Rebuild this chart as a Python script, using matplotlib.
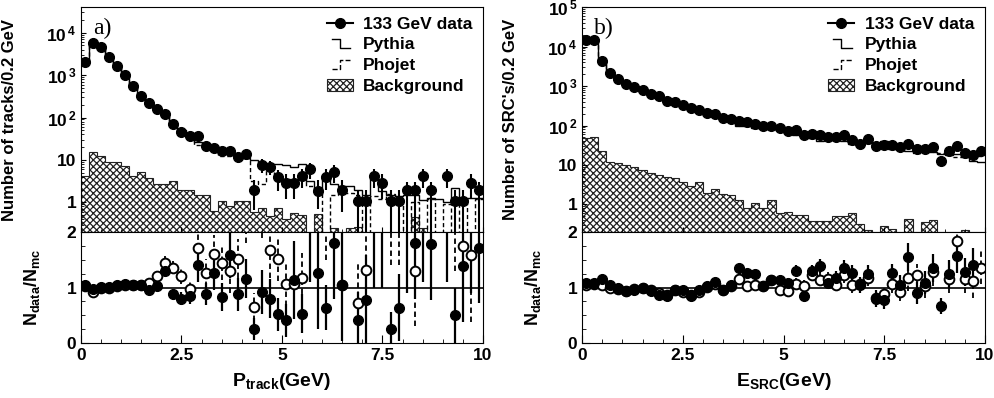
import numpy as np
import matplotlib

matplotlib.use("Agg")
import matplotlib.pyplot as plt
from matplotlib.legend_handler import HandlerBase
from matplotlib.lines import Line2D
from matplotlib.patches import Patch
from matplotlib.ticker import FuncFormatter, MultipleLocator, LogLocator, NullFormatter

plt.rcParams["font.family"] = ["Liberation Sans", "DejaVu Sans"]
plt.rcParams["font.weight"] = "bold"
plt.rcParams["mathtext.fontset"] = "custom"
plt.rcParams["mathtext.rm"] = "Liberation Sans:bold"
plt.rcParams["mathtext.it"] = "Liberation Sans:bold"
plt.rcParams["mathtext.bf"] = "Liberation Sans:bold"
plt.rcParams["hatch.linewidth"] = 0.9

nan = np.nan
bin_edges = np.linspace(0, 10, 51)

# ---- panel a) charged tracks ----
trk_data = [2000, 5800, 4500, 2700, 1600, 1000, 550, 330, 215, 155,
            118, 72, 45, 36, 37, 21, 19.5, 16, 16.5, 12,
            13.5, 2.0, 7.8, 7.0, 3.9, 2.9, 2.9, 4.2, 6.0, 1.9,
            4.0, 5.2, 2.0, nan, 1.07, 1.07, 4.2, 2.9, 1.07, 1.07,
            2.0, 2.0, 4.2, 2.0, nan, 4.2, 1.07, 1.07, 2.9, 2.0]
trk_err_up = [45, 75, 65, 50, 40, 30, 23, 18, 14, 12,
              11, 8, 7, 6, 6, 4.5, 4.4, 4, 4, 3.5,
              3.7, 1.4, 2.8, 2.6, 2.0, 1.7, 1.7, 2.0, 2.4, 1.4,
              2.0, 2.3, 1.4, nan, 0.9, 0.9, 2.0, 1.7, 0.9, 0.9,
              1.0, 1.0, 2.0, 1.0, nan, 2.0, 0.9, 0.9, 1.7, 1.0]
trk_err_dn = [45, 75, 65, 50, 40, 30, 23, 18, 14, 12,
              11, 8, 7, 6, 6, 4.5, 4.4, 4, 4, 3.5,
              3.7, 1.35, 2.8, 2.6, 2.0, 1.7, 1.7, 2.0, 2.4, 1.2,
              2.0, 2.3, 1.4, nan, 1.05, 1.05, 2.0, 1.7, 1.05, 1.05,
              1.95, 1.95, 2.0, 1.95, nan, 2.0, 1.05, 1.05, 1.7, 1.95]
trk_pythia = [2000, 5800, 4400, 2800, 1650, 1000, 570, 340, 215, 150,
              108, 75, 50, 37, 27, 24, 19, 16, 14, 12,
              11, 10, 8.5, 8, 8, 7.5, 7, 8, 3.2, 2.0,
              4.5, 2.7, 2.4, 2.4, 2.0, 1.5, 3.7, 1.9, 1.5, 1.4,
              1.5, 1.5, 1.15, 1.3, 1.2, 1.0, 2.2, 1.1, 1.25, 1.25]
trk_phojet = [2000, 5700, 4400, 2700, 1600, 980, 560, 330, 210, 145,
              110, 70, 45, 33, 22, 21, 17, 12.5, 12.5, 12,
              11, 3.2, 2.7, 7.0, 4.0, 3.5, 3.0, 4.5, 2.5, 1.8,
              0, 1.5, 2.0, 1.7, 1.5, 0, 1.4, 1.2, 1.6, 1.3,
              0, 1.0, 0, 1.2, 0, 0.9, 0, 1.1, 0, 1.2]
trk_bg = [4.2, 15, 12.5, 9, 9, 7.2, 4.2, 5.1, 3.8, 2.7,
          2.7, 3.2, 2.0, 2.0, 1.5, 1.5, 0.63, 1.1, 0.82, 1.07,
          1.07, 0.59, 0.75, 0.48, 0.75, 0.4, 0.55, 0.5, 0, 0.52,
          0, 0.25, 0, 0.25, 0.26, 0, 0, 0, 0, 0,
          0, 0.45, 0.25, 0, 0, 0, 0, 0, 0, 0]
trk_r_py = [1.05, 0.97, 1.01, 1.01, 1.04, 1.07, 1.05, 1.05, 0.96, 1.03,
            1.3, 0.88, 0.8, 0.84, 1.4, 0.88, 1.26, 0.83, 1.58, 0.88,
            1.16, 0.26, 0.92, 0.8, 0.52, 0.41, 1.14, 0.53, 2.3, 1.26,
            0.64, 1.8, 1.04, nan, 0.42, 0.78, 2.4, 2.2, 0.26, 0.64,
            2.3, 1.8, 2.6, 1.78, nan, 2.5, 0.5, 1.38, 2.3, 1.72]
trk_r_py_err = [0.03, 0.03, 0.03, 0.03, 0.03, 0.03, 0.03, 0.04, 0.05, 0.06,
                0.1, 0.1, 0.12, 0.14, 0.3, 0.2, 0.3, 0.25, 0.4, 0.3,
                0.35, 0.2, 0.4, 0.35, 0.3, 0.3, 0.7, 0.35, 1.2, 1.0,
                0.4, 1.0, 1.0, nan, 0.5, 0.8, 1.4, 1.2, 0.3, 0.6,
                1.4, 1.0, 1.5, 1.0, nan, 1.4, 0.5, 1.0, 1.4, 1.0]
trk_r_ph = [1.03, 0.92, 1.0, 1.0, 1.03, 1.05, 1.04, 1.04, 1.08, 1.2,
            1.44, 1.36, 1.2, 0.98, 1.72, 1.26, 1.6, 1.44, 1.3, 1.52,
            2.3, 0.65, 2.9, 1.68, 1.52, 1.06, 1.06, 1.18, 2.6, 2.4,
            2.5, 2.3, 1.04, nan, 0.72, 1.32, 2.6, 2.5, 2.4, 2.6,
            2.6, 1.3, 2.7, 2.5, nan, 2.6, 2.5, 1.74, 1.58, 2.6]
trk_r_ph_err = [0.03, 0.03, 0.03, 0.03, 0.03, 0.03, 0.03, 0.04, 0.05, 0.07,
                0.12, 0.12, 0.13, 0.15, 0.35, 0.25, 0.35, 0.3, 0.4, 0.35,
                0.5, 0.25, 1.0, 0.5, 0.4, 0.4, 0.6, 0.45, 1.0, 1.0,
                1.0, 1.0, 1.0, nan, 0.7, 0.8, 1.2, 1.2, 1.0, 1.2,
                1.2, 1.0, 1.2, 1.2, nan, 1.3, 1.2, 1.1, 1.2, 1.2]

# ---- panel b) SRC energies ----
src_data = [15000, 15000, 4400, 2150, 1470, 1100, 940, 780, 620, 560,
            420, 405, 335, 285, 247, 213, 196, 155, 147, 128,
            126, 110, 95, 95, 86, 71, 75, 56, 62, 56,
            51, 51, 56, 44, 35, 46, 30, 32, 32, 28,
            35, 25, 25, 29, 13, 23, 30, 20, 18, 23]
src_err = [120, 120, 66, 46, 38, 33, 31, 28, 25, 24,
           20, 20, 18, 17, 16, 15, 14, 12, 12, 11,
           11, 10.5, 10, 10, 9, 8.5, 8.5, 7.5, 8, 7.5,
           7, 7, 7.5, 6.6, 6, 6.8, 5.5, 5.7, 5.7, 5.3,
           6, 5, 5, 5.4, 3.6, 4.8, 5.5, 4.5, 4.2, 4.8]
src_pythia = [13800, 13800, 3800, 2050, 1480, 1180, 980, 790, 660, 640,
              490, 420, 350, 335, 255, 210, 180, 160, 140, 95,
              100, 88, 93, 83, 75, 65, 58, 66, 48, 40,
              47, 43, 41, 35, 33, 37, 37, 41, 25, 27,
              23, 28, 23, 21, 19, 18, 19, 16, 13, 12]
src_phojet = [14300, 14000, 4200, 2170, 1490, 1130, 960, 770, 650, 620,
              480, 420, 365, 325, 270, 215, 190, 165, 160, 110,
              122, 105, 93, 84, 90, 75, 70, 54, 51, 49,
              44, 48, 46, 42, 33, 39, 37, 36, 30, 30,
              30, 20, 25, 23, 20, 20, 16, 17, 16, 17]
src_bg = [47, 51, 23, 12, 11, 10, 9, 7.5, 6.2, 5.6,
          5.1, 4.6, 3.8, 2.9, 3.8, 2.0, 2.4, 1.8, 1.7, 1.33,
          0.83, 1.06, 0.83, 1.33, 0.62, 0.66, 0.53, 0.53, 0.38, 0.38,
          0.38, 0.5, 0.5, 0.6, 0.32, 0.23, 0, 0.28, 0.24, 0,
          0.42, 0, 0.36, 0.4, 0, 0, 0, 0.22, 0, 0]
src_r_py = [1.09, 1.09, 1.15, 1.05, 0.99, 0.93, 0.96, 0.99, 0.94, 0.87,
            0.85, 0.96, 0.95, 0.85, 0.96, 1.02, 1.1, 0.96, 1.05, 1.35,
            1.26, 1.25, 1.02, 1.14, 1.14, 1.09, 1.3, 0.85, 1.3, 1.39,
            1.09, 1.18, 1.35, 1.26, 1.05, 1.25, 0.8, 0.77, 1.26, 1.05,
            1.55, 0.9, 1.09, 1.35, 0.67, 1.25, 1.57, 1.28, 1.41, nan]
src_r_ph = [1.05, 1.07, 1.05, 0.99, 0.98, 0.94, 0.97, 0.99, 0.95, 0.9,
            0.87, 0.96, 0.92, 0.87, 0.92, 1.01, 1.06, 0.96, 1.02, 1.16,
            1.03, 1.05, 1.02, 1.13, 0.96, 0.94, 1.07, 1.03, 1.22, 1.14,
            1.16, 1.05, 1.22, 1.05, 1.06, 1.18, 0.81, 0.88, 1.07, 0.92,
            1.18, 1.22, 1.02, 1.28, nan, 1.16, 1.84, 1.16, 1.12, 1.36]
src_r_err = [0.02, 0.02, 0.02, 0.02, 0.02, 0.02, 0.02, 0.02, 0.02, 0.02,
             0.03, 0.03, 0.03, 0.03, 0.04, 0.04, 0.05, 0.05, 0.05, 0.06,
             0.07, 0.07, 0.08, 0.08, 0.08, 0.08, 0.1, 0.1, 0.1, 0.12,
             0.12, 0.12, 0.14, 0.14, 0.14, 0.15, 0.15, 0.15, 0.17, 0.17,
             0.25, 0.2, 0.2, 0.25, 0.15, 0.25, 0.3, 0.25, 0.3, 0.3]

HATCH = "xxxxx"
HATCH_COLOR = "#222222"
FLOOR = 1e-2  # empty bins fall below the axis
MS = 7


class StepHandler(HandlerBase):
    """Legend glyph that looks like one histogram step."""

    def __init__(self, rising):
        super().__init__()
        self.rising = rising

    def create_artists(self, legend, orig_handle, xdescent, ydescent,
                       width, height, fontsize, trans):
        x0, y0 = -xdescent, -ydescent
        lo, hi = y0 + 0.1 * height, y0 + 0.85 * height
        a, b = (lo, hi) if self.rising else (hi, lo)
        xs = [x0 + 0.2 * width, x0 + 0.5 * width, x0 + 0.5 * width, x0 + 0.9 * width]
        ys = [a, a, b, b]
        line = Line2D(xs, ys, color="k", lw=1.0, linestyle=orig_handle.get_linestyle(),
                      transform=trans)
        return [line]


def log_label(v, pos):
    if v == 1:
        return "1"
    if v == 10:
        return "10"
    if v >= 100:
        return r"$10^{\,%d}$" % round(np.log10(v))
    return ""


def draw(ax, axr, data, eup, edn, pythia, phojet, bg, r_py, r_py_err, r_ph, r_ph_err,
         ytop, tag, ylabel, xlabel):
    centers = 0.5 * (bin_edges[:-1] + bin_edges[1:])

    ax.stairs(np.clip(bg, FLOOR, None), bin_edges, baseline=FLOOR, fill=True,
              facecolor="white", edgecolor=HATCH_COLOR, hatch=HATCH, lw=0.8)
    ax.stairs(np.clip(pythia, FLOOR, None), bin_edges, baseline=None, color="k", lw=1.0)
    ax.stairs(np.clip(phojet, FLOOR, None), bin_edges, baseline=None, color="k", lw=1.0,
              linestyle=(0, (3, 2)))
    ax.errorbar(centers, data, yerr=[edn, eup], fmt="o", color="k", ms=MS,
                elinewidth=1.5, capsize=0)

    ax.set_yscale("log")
    ax.set_xlim(0, 10)
    ax.set_ylim(0.2, ytop)
    ax.yaxis.set_major_locator(LogLocator(base=10))
    ax.yaxis.set_major_formatter(FuncFormatter(log_label))
    ax.yaxis.set_minor_locator(LogLocator(base=10, subs=np.arange(2, 10)))
    ax.yaxis.set_minor_formatter(NullFormatter())
    ax.tick_params(axis="both", which="both", direction="in", labelsize=12.5)
    ax.tick_params(axis="x", labelbottom=False)
    ax.xaxis.set_major_locator(MultipleLocator(2.5))
    ax.xaxis.set_minor_locator(MultipleLocator(0.5))
    ax.set_ylabel(ylabel, fontsize=12, fontweight="bold")
    ax.yaxis.set_label_coords(-0.158, 0.5)
    ax.text(0.03, 0.905, tag, transform=ax.transAxes, fontsize=17,
            family=["Liberation Serif", "DejaVu Serif"], fontweight="normal", va="center")

    h_data = Line2D([], [], color="k", marker="o", ms=MS, lw=1.5)
    h_py = Line2D([], [], color="k", linestyle="-")
    h_ph = Line2D([], [], color="k", linestyle=(0, (2, 2)))
    h_bg = Patch(facecolor="white", edgecolor=HATCH_COLOR, hatch=HATCH, lw=0.8)
    ax.legend([h_data, h_py, h_ph, h_bg], ["133 GeV data", "Pythia", "Phojet", "Background"],
              handler_map={h_py: StepHandler(False), h_ph: StepHandler(True)},
              loc="upper left", bbox_to_anchor=(0.585, 1.005), frameon=False,
              fontsize=12.5, handlelength=1.5, handletextpad=0.6, labelspacing=0.32,
              borderpad=0.1)

    # ratio panel
    axr.axhline(1, color="k", lw=1.2, zorder=1)
    eb = axr.errorbar(centers, r_ph, yerr=r_ph_err, fmt="o", ms=MS, mfc="white",
                      mec="k", mew=1.4, ecolor="k", elinewidth=1.3, capsize=0)
    eb[2][0].set_linestyle((0, (3, 2)))
    axr.errorbar(centers, r_py, yerr=r_py_err, fmt="o", ms=MS, color="k",
                 elinewidth=1.6, capsize=0)
    axr.set_xlim(0, 10)
    axr.set_ylim(0, 2)
    axr.yaxis.set_major_locator(MultipleLocator(1))
    axr.yaxis.set_minor_locator(MultipleLocator(0.25))
    axr.xaxis.set_major_locator(MultipleLocator(2.5))
    axr.xaxis.set_minor_locator(MultipleLocator(0.5))
    axr.xaxis.set_major_formatter(FuncFormatter(lambda v, p: f"{v:g}"))
    axr.tick_params(axis="both", which="major", direction="in", length=6, labelsize=12.5)
    axr.tick_params(axis="both", which="minor", direction="in", length=3)
    axr.set_ylabel(r"N$_{\mathrm{data}}$/N$_{\mathrm{mc}}$", fontsize=13, fontweight="bold")
    axr.yaxis.set_label_coords(-0.097, 0.5)
    axr.set_xlabel(xlabel, fontsize=14, fontweight="bold")
    axr.xaxis.set_label_coords(0.5, -0.25)


fig = plt.figure(figsize=(9.95, 3.98), dpi=100)
ax_a = fig.add_axes([0.0814, 0.417, 0.404, 0.565])
ax_ar = fig.add_axes([0.0814, 0.138, 0.404, 0.279])
ax_b = fig.add_axes([0.585, 0.417, 0.405, 0.565])
ax_br = fig.add_axes([0.585, 0.138, 0.405, 0.279])

draw(ax_a, ax_ar, trk_data, trk_err_up, trk_err_dn, trk_pythia, trk_phojet, trk_bg,
     trk_r_py, trk_r_py_err, trk_r_ph, trk_r_ph_err, 4e4, "a)",
     "Number of tracks/0.2 GeV", r"P$_{\mathrm{track}}$(GeV)")
draw(ax_b, ax_br, src_data, src_err, src_err, src_pythia, src_phojet, src_bg,
     src_r_py, src_r_err, src_r_ph, src_r_err, 1e5, "b)",
     "Number of SRC's/0.2 GeV", r"E$_{\mathrm{SRC}}$(GeV)")

fig.savefig("out.png", dpi=100)
